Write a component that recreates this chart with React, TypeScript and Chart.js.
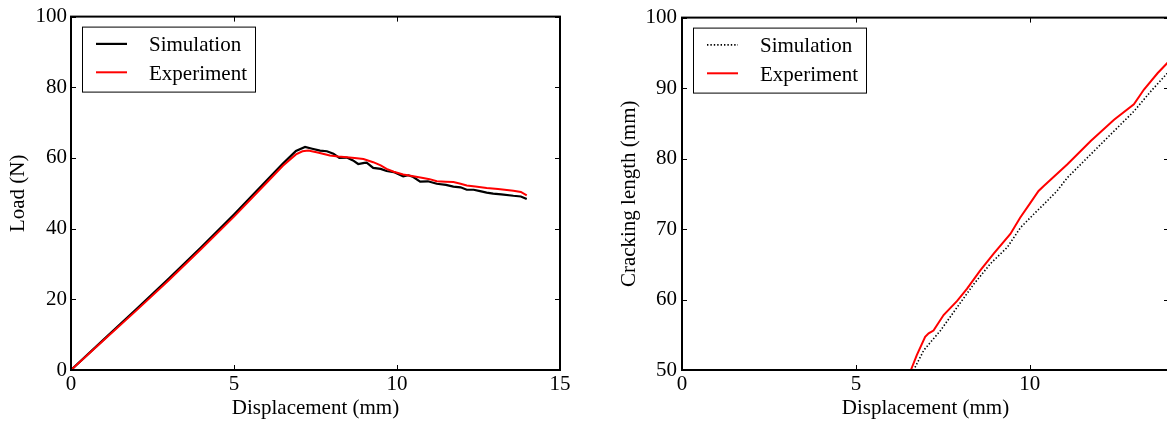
import React, { useEffect, useRef } from "react";
import { Chart, registerables } from "chart.js";

Chart.register(...registerables);

// ---------- tick labels ----------
const LOAD_X_TICKS = [0, 5, 10, 15];
const LOAD_Y_TICKS = [0, 20, 40, 60, 80, 100];
const CRACK_X_TICKS = [0, 5, 10];
const CRACK_Y_TICKS = [50, 60, 70, 80, 90, 100];

// ---------- left chart: load vs displacement ----------
const SIM_LOAD_X = [0, 1, 2, 3, 4, 5, 6, 6.5, 6.9, 7.18, 7.4, 7.64, 7.85, 8.05, 8.23, 8.46, 8.65, 8.81, 9.0, 9.07, 9.27, 9.5, 9.68, 9.9, 10.19, 10.35, 10.5, 10.71, 10.95, 11.22, 11.5, 11.73, 11.95, 12.14, 12.35, 12.55, 12.75, 12.95, 13.2, 13.57, 13.8, 13.98];
const SIM_LOAD_Y = [0, 8.6, 17.2, 25.9, 34.8, 44.0, 53.6, 58.4, 62.0, 63.1, 62.6, 62.1, 61.9, 61.2, 60.0, 60.1, 59.3, 58.3, 58.6, 58.7, 57.2, 56.9, 56.3, 56.0, 54.8, 55.1, 54.6, 53.3, 53.4, 52.7, 52.4, 51.9, 51.7, 51.0, 51.0, 50.6, 50.2, 49.9, 49.7, 49.3, 49.1, 48.4];
const EXP_LOAD_X = [0, 1, 2, 3, 4, 5, 6, 6.5, 6.9, 7.1, 7.28, 7.6, 7.94, 8.2, 8.46, 8.7, 8.97, 9.27, 9.5, 9.68, 9.9, 10.19, 10.5, 10.8, 11.0, 11.22, 11.5, 11.73, 11.95, 12.14, 12.4, 12.75, 13.1, 13.57, 13.8, 13.98];
const EXP_LOAD_Y = [0, 8.4, 16.8, 25.4, 34.3, 43.4, 53.0, 57.8, 61.0, 61.9, 62.1, 61.5, 60.7, 60.4, 60.2, 60.0, 59.7, 58.8, 57.9, 56.9, 56.1, 55.3, 54.8, 54.3, 54.0, 53.4, 53.3, 53.2, 52.7, 52.2, 51.9, 51.5, 51.2, 50.7, 50.4, 49.4];

// ---------- right chart: cracking length vs displacement ----------
const SIM_CRACK_X = [0, 6.66, 6.95, 7.43, 7.91, 8.39, 8.87, 9.35, 9.73, 10.11, 10.40, 10.78, 11.08, 11.75, 12.42, 12.99, 13.47, 13.95, 14.0];
const SIM_CRACK_Y = [50, 50, 52.8, 55.6, 58.9, 62.2, 65.1, 67.4, 70.2, 72.1, 73.5, 75.4, 77.3, 80.6, 83.9, 86.7, 89.5, 92.1, 92.4];
const EXP_CRACK_X = [0, 6.58, 6.75, 6.99, 7.09, 7.23, 7.52, 7.91, 8.19, 8.57, 8.96, 9.44, 9.72, 10.0, 10.25, 10.40, 11.08, 11.75, 12.42, 12.99, 13.28, 13.67, 14.0];
const EXP_CRACK_Y = [50, 50, 52.1, 54.7, 55.2, 55.6, 57.8, 59.8, 61.5, 64.1, 66.5, 69.3, 71.6, 73.6, 75.4, 76.1, 79.2, 82.5, 85.5, 87.7, 89.8, 92.1, 93.8];

const FONT = "'Liberation Serif', 'Times New Roman', serif";
const FS = 21;

const pts = (xs: number[], ys: number[]) => xs.map((x, i) => ({ x, y: ys[i] }));

const framePlugin = {
  id: "mplFrame",
  afterDatasetsDraw(chart: any) {
    const { ctx, chartArea: a, scales } = chart;
    ctx.save();
    // inward ticks on all four sides
    ctx.strokeStyle = "#000";
    ctx.lineWidth = 1;
    const tl = 5;
    ctx.beginPath();
    for (const t of scales.x.ticks) {
      const px = Math.round(scales.x.getPixelForValue(t.value)) + 0.5;
      ctx.moveTo(px, a.bottom);
      ctx.lineTo(px, a.bottom - tl);
      ctx.moveTo(px, a.top);
      ctx.lineTo(px, a.top + tl);
    }
    for (const t of scales.y.ticks) {
      const py = Math.round(scales.y.getPixelForValue(t.value)) + 0.5;
      ctx.moveTo(a.left, py);
      ctx.lineTo(a.left + tl, py);
      ctx.moveTo(a.right, py);
      ctx.lineTo(a.right - tl, py);
    }
    ctx.stroke();
    // frame
    ctx.lineWidth = 2;
    ctx.strokeRect(a.left, a.top, a.right - a.left, a.bottom - a.top);

    // legend box
    const lx = a.left + 11.5;
    const ly = a.top + 10.5;
    ctx.fillStyle = "#fff";
    ctx.fillRect(lx, ly, 173, 65);
    ctx.lineWidth = 1;
    ctx.strokeStyle = "#000";
    ctx.strokeRect(lx, ly, 173, 65);
    chart.data.datasets.forEach((ds: any, i: number) => {
      const yLine = a.top + 27.3 + i * 28.4;
      ctx.save();
      ctx.strokeStyle = ds.borderColor;
      ctx.lineWidth = ds.borderWidth;
      ctx.setLineDash(ds.borderDash || []);
      ctx.beginPath();
      ctx.moveTo(lx + 13.5, yLine);
      ctx.lineTo(lx + 44.5, yLine);
      ctx.stroke();
      ctx.restore();
      ctx.fillStyle = "#000";
      ctx.font = `${FS}px ${FONT}`;
      ctx.textBaseline = "alphabetic";
      ctx.textAlign = "left";
      ctx.fillText(ds.label, lx + 66.5, a.top + 34.2 + i * 29.3);
    });
    ctx.restore();
  },
};

function makeConfig(opts: {
  datasets: any[];
  xMax: number;
  yMin: number;
  yMax: number;
  xTicks: number[];
  yTicks: number[];
  yTitle: string;
  yAxisWidth: number;
  yTitlePad: number;
  yTickPad: number;
  padRight: number;
}) {
  const font = { family: FONT, size: FS };
  return {
    type: "line",
    data: { datasets: opts.datasets },
    plugins: [framePlugin],
    options: {
      animation: false,
      responsive: false,
      maintainAspectRatio: false,
      layout: { padding: { left: 0, top: 16, right: opts.padRight, bottom: 0 } },
      elements: { point: { radius: 0 }, line: { tension: 0 } },
      plugins: { legend: { display: false }, tooltip: { enabled: false } },
      scales: {
        x: {
          type: "linear",
          min: 0,
          max: opts.xMax,
          afterBuildTicks: (s: any) => {
            s.ticks = opts.xTicks.map((v) => ({ value: v }));
          },
          afterFit: (s: any) => {
            s.height = 54;
          },
          grid: { display: false, drawTicks: false },
          border: { display: false },
          ticks: { color: "#000", font, padding: 2, maxRotation: 0, autoSkip: false },
          title: {
            display: true,
            text: "Displacement (mm)",
            color: "#000",
            font,
            padding: { top: 0, bottom: 3 },
          },
        },
        y: {
          type: "linear",
          min: opts.yMin,
          max: opts.yMax,
          afterBuildTicks: (s: any) => {
            s.ticks = opts.yTicks.map((v) => ({ value: v }));
          },
          afterFit: (s: any) => {
            s.width = opts.yAxisWidth;
          },
          grid: { display: false, drawTicks: false },
          border: { display: false },
          ticks: { color: "#000", font, padding: opts.yTickPad, autoSkip: false },
          title: {
            display: true,
            text: opts.yTitle,
            color: "#000",
            font,
            padding: { top: opts.yTitlePad, bottom: 0 },
          },
        },
      },
    },
  };
}

export default function App() {
  const leftRef = useRef<HTMLCanvasElement | null>(null);
  const rightRef = useRef<HTMLCanvasElement | null>(null);

  useEffect(() => {
    const c1 = new Chart(
      leftRef.current as HTMLCanvasElement,
      makeConfig({
        datasets: [
          {
            label: "Simulation",
            data: pts(SIM_LOAD_X, SIM_LOAD_Y),
            borderColor: "#000000",
            borderWidth: 2.2,
            fill: false,
            order: 1,
          },
          {
            label: "Experiment",
            data: pts(EXP_LOAD_X, EXP_LOAD_Y),
            borderColor: "#ff0000",
            borderWidth: 2,
            fill: false,
            order: 0,
          },
        ],
        xMax: 15,
        yMin: 0,
        yMax: 100,
        xTicks: LOAD_X_TICKS,
        yTicks: LOAD_Y_TICKS,
        yTitle: "Load (N)",
        yAxisWidth: 71,
        yTitlePad: 6.1,
        yTickPad: 4,
        padRight: 23,
      }) as any
    );
    const c2 = new Chart(
      rightRef.current as HTMLCanvasElement,
      makeConfig({
        datasets: [
          {
            label: "Simulation",
            data: pts(SIM_CRACK_X, SIM_CRACK_Y),
            borderColor: "#000000",
            borderWidth: 1.6,
            borderDash: [1.4, 2.0],
            fill: false,
            order: 1,
          },
          {
            label: "Experiment",
            data: pts(EXP_CRACK_X, EXP_CRACK_Y),
            borderColor: "#ff0000",
            borderWidth: 2,
            fill: false,
            order: 0,
          },
        ],
        xMax: 14,
        yMin: 50,
        yMax: 100,
        xTicks: CRACK_X_TICKS,
        yTicks: CRACK_Y_TICKS,
        yTitle: "Cracking length (mm)",
        yAxisWidth: 82,
        yTitlePad: 17.1,
        yTickPad: 5,
        padRight: 31,
      }) as any
    );
    return () => {
      c1.destroy();
      c2.destroy();
    };
  }, []);

  return (
    <div
      style={{
        position: "fixed",
        left: 0,
        top: 0,
        width: 1167,
        height: 424,
        overflow: "hidden",
        background: "#fff",
      }}
    >
      <canvas
        ref={leftRef}
        width={583}
        height={424}
        style={{ position: "absolute", left: 0, top: 0, width: 583, height: 424 }}
      />
      <canvas
        ref={rightRef}
        width={600}
        height={424}
        style={{ position: "absolute", left: 600, top: 0, width: 600, height: 424 }}
      />
    </div>
  );
}
